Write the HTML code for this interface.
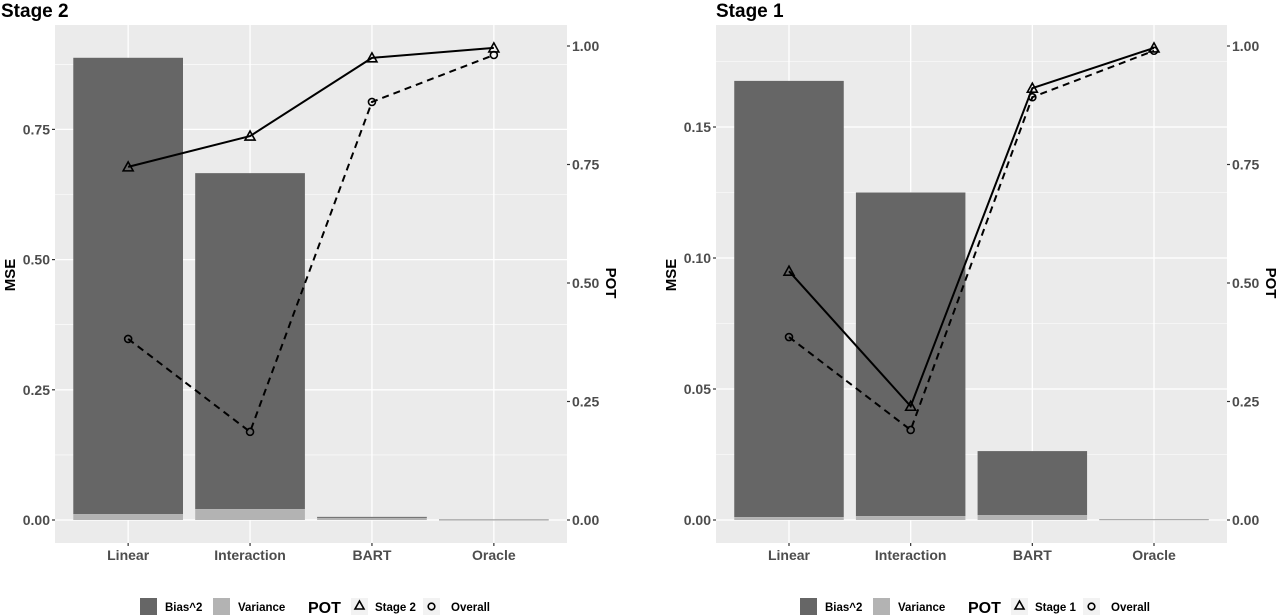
<!DOCTYPE html>
<html><head><meta charset="utf-8"><style>
body{margin:0;background:#fff;}
svg{display:block;font-family:"Liberation Sans",Arial,sans-serif;}
</style></head><body>
<svg id="c" width="1278" height="616" xmlns="http://www.w3.org/2000/svg"></svg>
<script>
const categories = ["Linear","Interaction","BART","Oracle"];
const s2Bias = [0.876, 0.645, 0.002, 0.0008];
const s2Var = [0.0115, 0.021, 0.004, 0.0004];
const s2PotStage = [0.745, 0.81, 0.975, 0.996];
const s2PotOverall = [0.382, 0.186, 0.882, 0.981];
const s1Bias = [0.1665, 0.1235, 0.0244, 0.0001];
const s1Var = [0.0011, 0.0015, 0.0019, 0.0002];
const s1PotStage = [0.525, 0.24, 0.911, 0.996];
const s1PotOverall = [0.386, 0.19, 0.892, 0.99];
const s2MseTicks = [0, 0.25, 0.5, 0.75];
const s1MseTicks = [0, 0.05, 0.10, 0.15];
const potTicks = [0, 0.25, 0.5, 0.75, 1.0];

const svg = document.getElementById('c');
const NS = 'http://www.w3.org/2000/svg';
function mk(tag, attrs, parent){const e=document.createElementNS(NS,tag);for(const k in attrs)e.setAttribute(k,attrs[k]);(parent||svg).appendChild(e);return e;}

function panel(o){
  const g = mk('g',{});
  
  
  const L=o.left, R=o.right, T=25, B=543, y0=520;
  const yM = v => y0 - v*o.mseScale;
  const yP = v => y0 - v*474;
  const step=(R-L)/4.2;
  const xC = i => L + step*(0.6+i);
  const bg=mk('rect',{x:L,y:T,width:R-L,height:B-T,fill:'#EBEBEB'},g);
  
  const tk=o.mseTicks, d=tk[1]-tk[0];
  for(let i=0;i<tk.length;i++){const v=tk[i]+d/2;const y=yM(v);if(y>T)mk('line',{x1:L,x2:R,y1:y,y2:y,stroke:'#fff','stroke-width':0.6},g);}
  tk.forEach(v=>{const y=yM(v);mk('line',{x1:L,x2:R,y1:y,y2:y,stroke:'#fff','stroke-width':1.3},g);
    const t=mk('text',{x:L-5,y:y+5,'text-anchor':'end','font-size':14,'font-weight':'bold',fill:'#4D4D4D'},g);t.textContent=v.toFixed(2);
    
    mk('line',{x1:L-3,x2:L,y1:y,y2:y,stroke:'#333','stroke-width':1.2},g);});
  potTicks.forEach(v=>{const y=yP(v);
    const t=mk('text',{x:R+5,y:y+5,'font-size':14,'font-weight':'bold',fill:'#4D4D4D'},g);t.textContent=v.toFixed(2);
    
    mk('line',{x1:R,x2:R+3,y1:y,y2:y,stroke:'#333','stroke-width':1.2},g);});
  categories.forEach((c,i)=>{const x=xC(i);mk('line',{x1:x,x2:x,y1:T,y2:B,stroke:'#fff','stroke-width':1.3},g);
    mk('line',{x1:x,x2:x,y1:B,y2:B+3,stroke:'#333','stroke-width':1.2},g);
    const t=mk('text',{x:x,y:560,'text-anchor':'middle','font-size':14,'font-weight':'bold',fill:'#4D4D4D'},g);t.textContent=c;
    });
  const bw=step*0.9;
  categories.forEach((c,i)=>{const x=xC(i)-bw/2;const vv=o.vr[i],bb=o.bias[i];
    const r1=mk('rect',{x:x,y:yM(vv+bb),width:bw,height:Math.max(0.5,yM(vv)-yM(vv+bb)),fill:'#666666'},g);
    
    const r2=mk('rect',{x:x,y:yM(vv),width:bw,height:Math.max(0.8,y0-yM(vv)),fill:'#B3B3B3'},g);
    });
  const ptsS=o.potS.map((v,i)=>xC(i)+','+yP(v)).join(' ');
  const ptsO=o.potO.map((v,i)=>xC(i)+','+yP(v)).join(' ');
  const l1=mk('polyline',{points:ptsS,fill:'none',stroke:'#000','stroke-width':2},g);
  
  const l2=mk('polyline',{points:ptsO,fill:'none',stroke:'#000','stroke-width':2,'stroke-dasharray':'7,5'},g);
  
  o.potS.forEach((v,i)=>{const x=xC(i),y=yP(v);const p=mk('polygon',{points:`${x},${y-5} ${x-5},${y+4} ${x+5},${y+4}`,fill:'none',stroke:'#000','stroke-width':1.6},g);
    });
  o.potO.forEach((v,i)=>{const c=mk('circle',{cx:xC(i),cy:yP(v),r:3.5,fill:'none',stroke:'#000','stroke-width':1.6},g);
    });
  const ti=mk('text',{x:o.titleX,y:17,'font-size':19,'font-weight':'bold',fill:'#000'},g);ti.textContent=o.title;
  
  const ym=mk('text',{x:0,y:0,transform:`translate(${L-40},275) rotate(-90)`,'text-anchor':'middle','font-size':15,'font-weight':'bold'},g);ym.textContent='MSE';
  
  const yp=mk('text',{x:0,y:0,transform:`translate(${R+39},283) rotate(90)`,'text-anchor':'middle','font-size':15,'font-weight':'bold'},g);yp.textContent='POT';
  
  const lx=o.legendX, ly=598;
  const lg=mk('g',{},g);
  mk('rect',{x:lx,y:ly,width:17,height:17,fill:'#666666'},lg);
  let t=mk('text',{x:lx+25,y:ly+13,'font-size':11.5,'font-weight':'bold'},lg);t.textContent='Bias^2';
  mk('rect',{x:lx+73,y:ly,width:17,height:17,fill:'#B3B3B3'},lg);
  t=mk('text',{x:lx+98,y:ly+13,'font-size':11.5,'font-weight':'bold'},lg);t.textContent='Variance';
  t=mk('text',{x:lx+168,y:ly+15,'font-size':16,'font-weight':'bold'},lg);t.textContent='POT';
  mk('rect',{x:lx+211,y:ly,width:17,height:17,fill:'#F2F2F2'},lg);
  mk('polygon',{points:`${lx+219.5},${ly+3} ${lx+215},${ly+11} ${lx+224},${ly+11}`,fill:'none',stroke:'#000','stroke-width':1.6},lg);
  t=mk('text',{x:lx+235,y:ly+13,'font-size':11.5,'font-weight':'bold'},lg);t.textContent=o.stageLabel;
  mk('rect',{x:lx+283,y:ly,width:17,height:17,fill:'#F2F2F2'},lg);
  mk('circle',{cx:lx+291.5,cy:ly+8.5,r:3.3,fill:'none',stroke:'#000','stroke-width':1.6},lg);
  t=mk('text',{x:lx+311,y:ly+13,'font-size':11.5,'font-weight':'bold'},lg);t.textContent='Overall';
}
panel({name:'stage-2-panel',left:55,right:567,mseScale:520.8,mseTicks:s2MseTicks,bias:s2Bias,vr:s2Var,potS:s2PotStage,potO:s2PotOverall,title:'Stage 2',titleX:1,legendX:140,stageLabel:'Stage 2'});
panel({name:'stage-1-panel',left:716,right:1227,mseScale:2620,mseTicks:s1MseTicks,bias:s1Bias,vr:s1Var,potS:s1PotStage,potO:s1PotOverall,title:'Stage 1',titleX:716,legendX:800,stageLabel:'Stage 1'});
</script>
</body></html>
